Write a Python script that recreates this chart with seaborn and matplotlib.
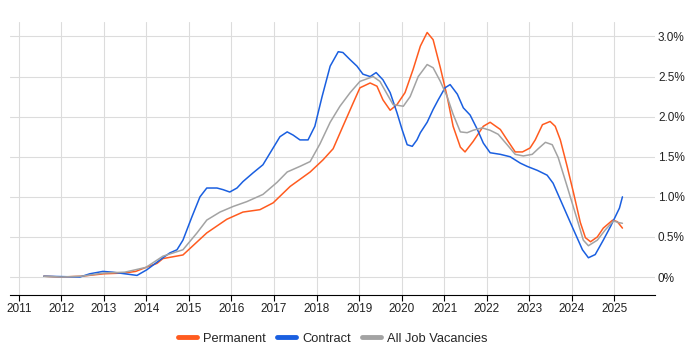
import pandas as pd
import matplotlib.pyplot as plt
import seaborn as sns

# values (year, % of vacancies)
perm_x = [2011.59, 2012.0, 2012.48, 2013.0, 2013.49, 2013.75, 2013.99, 2014.25, 2014.39, 2014.86,
          2015.42, 2015.89, 2016.27, 2016.67, 2016.98, 2017.38, 2017.85, 2018.15, 2018.39, 2018.62,
          2018.86, 2019.02, 2019.26, 2019.42, 2019.56, 2019.73, 2019.89, 2020.08, 2020.27, 2020.44,
          2020.6, 2020.74, 2020.91, 2021.07, 2021.21, 2021.38, 2021.49, 2021.68, 2021.92, 2022.08,
          2022.32, 2022.48, 2022.67, 2022.84, 2023.02, 2023.14, 2023.31, 2023.49, 2023.61, 2023.73,
          2023.89, 2024.04, 2024.2, 2024.32, 2024.44, 2024.6, 2024.74, 2024.96, 2025.07, 2025.19]
perm_y = [0.01, 0.0, 0.01, 0.04, 0.05, 0.07, 0.12, 0.17, 0.23, 0.275,
          0.55, 0.72, 0.81, 0.84, 0.925, 1.13, 1.31, 1.46, 1.60, 1.88,
          2.17, 2.36, 2.42, 2.38, 2.21, 2.08, 2.15, 2.30, 2.59, 2.88,
          3.05, 2.96, 2.61, 2.25, 1.88, 1.62, 1.56, 1.69, 1.88, 1.93,
          1.84, 1.71, 1.56, 1.56, 1.61, 1.71, 1.90, 1.94, 1.88, 1.71,
          1.38, 1.05, 0.68, 0.49, 0.44, 0.50, 0.61, 0.71, 0.69, 0.61]

contract_x = [2011.59, 2012.44, 2012.67, 2012.98, 2013.21, 2013.78, 2014.01, 2014.39, 2014.55, 2014.72,
              2014.86, 2015.07, 2015.26, 2015.42, 2015.66, 2015.8, 2015.96, 2016.13, 2016.27, 2016.51,
              2016.74, 2016.98, 2017.14, 2017.31, 2017.45, 2017.61, 2017.8, 2017.96, 2018.13, 2018.32,
              2018.51, 2018.62, 2018.79, 2018.95, 2019.09, 2019.26, 2019.4, 2019.56, 2019.73, 2019.89,
              2020.01, 2020.13, 2020.25, 2020.36, 2020.44, 2020.6, 2020.74, 2020.86, 2021.02, 2021.14,
              2021.31, 2021.45, 2021.61, 2021.78, 2021.92, 2022.08, 2022.32, 2022.55, 2022.79, 2022.95,
              2023.19, 2023.42, 2023.56, 2023.8, 2024.04, 2024.25, 2024.39, 2024.55, 2024.74, 2024.91,
              2025.02, 2025.12, 2025.19]
contract_y = [0.01, 0.0, 0.04, 0.07, 0.06, 0.02, 0.09, 0.24, 0.30, 0.34,
              0.46, 0.75, 1.0, 1.11, 1.11, 1.09, 1.06, 1.11, 1.19, 1.30,
              1.40, 1.61, 1.75, 1.81, 1.77, 1.71, 1.71, 1.88, 2.25, 2.63,
              2.81, 2.80, 2.71, 2.63, 2.53, 2.50, 2.55, 2.46, 2.30, 2.05,
              1.84, 1.65, 1.63, 1.71, 1.80, 1.93, 2.09, 2.21, 2.36, 2.40,
              2.28, 2.11, 2.02, 1.84, 1.67, 1.55, 1.53, 1.50, 1.42, 1.38,
              1.33, 1.27, 1.17, 0.88, 0.59, 0.34, 0.24, 0.28, 0.46, 0.63,
              0.75, 0.86, 1.0]

all_x = [2011.59, 2012.0, 2012.48, 2013.0, 2013.49, 2013.99, 2014.39, 2014.86, 2015.19, 2015.42,
         2015.73, 2016.04, 2016.36, 2016.74, 2017.07, 2017.31, 2017.61, 2017.85, 2018.08, 2018.32,
         2018.55, 2018.79, 2019.02, 2019.33, 2019.49, 2019.66, 2019.8, 2020.04, 2020.2, 2020.39,
         2020.6, 2020.74, 2020.91, 2021.07, 2021.21, 2021.38, 2021.54, 2021.68, 2021.89, 2022.08,
         2022.27, 2022.48, 2022.67, 2022.86, 2023.07, 2023.21, 2023.38, 2023.54, 2023.68, 2023.89,
         2024.13, 2024.27, 2024.39, 2024.6, 2024.79, 2024.98, 2025.09, 2025.19]
all_y = [0.01, 0.0, 0.01, 0.05, 0.06, 0.12, 0.26, 0.34, 0.55, 0.71,
         0.81, 0.88, 0.94, 1.03, 1.18, 1.31, 1.38, 1.44, 1.66, 1.93,
         2.13, 2.30, 2.44, 2.50, 2.44, 2.28, 2.15, 2.13, 2.25, 2.50,
         2.65, 2.61, 2.44, 2.25, 2.03, 1.81, 1.80, 1.83, 1.86, 1.83,
         1.78, 1.65, 1.53, 1.51, 1.53, 1.60, 1.68, 1.65, 1.49, 1.13,
         0.71, 0.46, 0.39, 0.46, 0.59, 0.70, 0.68, 0.67]

year_ticks = list(range(2011, 2026))
pct_ticks = [0, 0.5, 1.0, 1.5, 2.0, 2.5, 3.0]
pct_labels = ["0%", "0.5%", "1.0%", "1.5%", "2.0%", "2.5%", "3.0%"]

sns.set_style("white")
plt.rcParams['font.family'] = ['Liberation Sans', 'DejaVu Sans']

fig = plt.figure(figsize=(7, 3.5), dpi=100)
ax = fig.add_axes([0.014, 0.157, 0.922, 0.78])

series = [("Permanent", perm_x, perm_y, "#ff5b1f"),
          ("Contract", contract_x, contract_y, "#1a5fe0"),
          ("All Job Vacancies", all_x, all_y, "#a3a3a3")]
for name, xs, ys, col in series:
    df = pd.DataFrame({"year": xs, "pct": ys})
    sns.lineplot(data=df, x="year", y="pct", color=col, linewidth=1.1, label=name, ax=ax)

ax.set_xlim(2010.79, 2025.96)
ax.set_ylim(-0.225, 3.18)
ax.set_xticks(year_ticks)
ax.set_xticklabels([str(y) for y in year_ticks], fontsize=8.5, color="#222222")
ax.set_yticks(pct_ticks)
ax.set_yticklabels(pct_labels, fontsize=8.5, color="#222222")
ax.yaxis.tick_right()
ax.set_xlabel("")
ax.set_ylabel("")
ax.grid(True, color="#dcdcdc", linewidth=0.8)
for s in ["left", "top", "right"]:
    ax.spines[s].set_visible(False)
ax.spines["bottom"].set_color("black")
ax.tick_params(axis="x", length=4, color="black", direction="out", bottom=True, pad=2)
ax.tick_params(axis="y", length=0, pad=2)

leg = ax.legend(loc="upper center", bbox_to_anchor=(0.5, -0.095), ncol=3, frameon=False,
                fontsize=9.3, handlelength=1.5, columnspacing=0.85, handletextpad=0.45)
for line in leg.get_lines():
    line.set_linewidth(3.5)

fig.savefig("out.png", dpi=100)
